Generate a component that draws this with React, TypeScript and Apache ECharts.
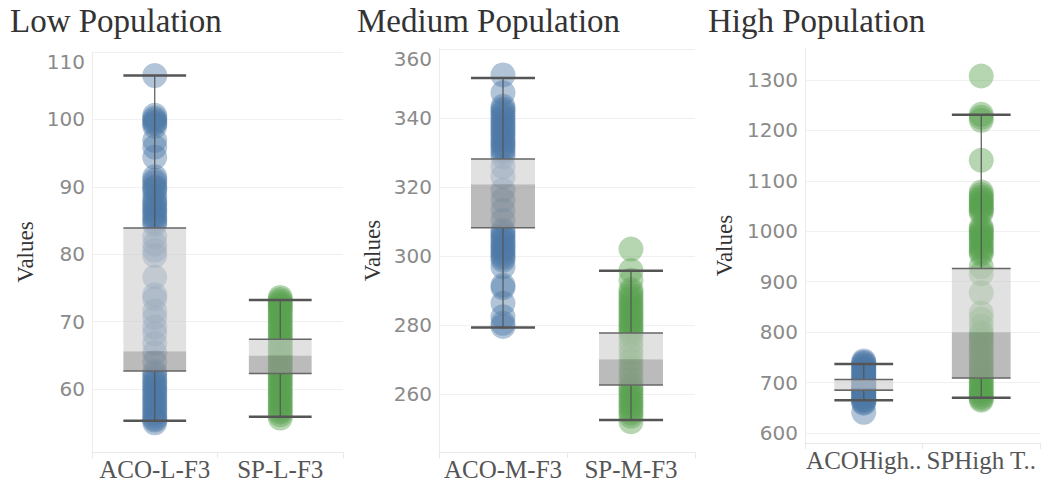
import React, { useEffect, useRef } from 'react';
import * as echarts from 'echarts';

// ---- categories ----
const lowCats = ['ACO-L-F3', 'SP-L-F3'];
const medCats = ['ACO-M-F3', 'SP-M-F3'];
const highCats = ['ACOHigh..', 'SPHigh T..'];

// ---- tick labels ----
const lowTicks = [60, 70, 80, 90, 100, 110];
const medTicks = [260, 280, 300, 320, 340, 360];
const highTicks = [600, 700, 800, 900, 1000, 1100, 1200, 1300];

// ---- observations ----
const lowAco = [106.5, 100.6, 100.2, 99.9, 99.6, 99.4, 99.0, 96.9, 95.9, 94.4, 91.5, 91.0, 90.6, 90.0, 89.8, 89.4, 88.6, 88.0, 87.6, 87.2, 86.8, 86.4, 86.0, 85.6, 85.2, 84.8, 84.4, 82.6, 81.5, 80.6, 79.8, 76.6, 74.0, 73.4, 71.6, 70.6, 69.2, 68.2, 66.8, 65.4, 64.0, 62.6, 62.2, 61.6, 61.2, 60.8, 60.4, 60.0, 59.6, 59.2, 58.8, 58.4, 58.0, 57.6, 57.2, 56.8, 56.4, 56.0, 55.6, 55.4, 55.0];
const lowSp = [73.6, 73.3, 73.0, 72.7, 72.4, 72.1, 71.8, 71.4, 71.0, 70.6, 70.2, 69.8, 69.4, 69.0, 68.6, 68.2, 67.8, 67.4, 67.0, 66.6, 66.2, 65.8, 65.4, 65.0, 64.6, 64.2, 63.8, 63.4, 63.0, 62.6, 62.2, 61.8, 61.4, 61.0, 60.6, 60.2, 59.8, 59.4, 59.0, 58.6, 58.2, 57.8, 57.4, 57.0, 56.6, 56.2, 55.7];
const medAco = [352.5, 347.3, 343.4, 342.6, 342.0, 341.2, 340.4, 339.7, 339.0, 338.2, 337.5, 336.8, 336.0, 335.3, 334.6, 333.8, 333.0, 332.4, 331.7, 330.8, 330.0, 328.8, 325.9, 323.0, 319.1, 316.2, 313.3, 310.4, 307.5, 306.8, 306.0, 305.3, 304.6, 303.8, 303.0, 302.4, 301.7, 301.0, 300.2, 299.5, 298.8, 296.9, 291.5, 290.8, 286.3, 282.4, 280.5, 279.6];
const medSp = [302.0, 295.8, 293.0, 290.2, 289.3, 288.4, 287.5, 286.6, 285.8, 285.0, 284.2, 283.4, 282.6, 281.8, 281.0, 280.2, 279.4, 278.6, 277.8, 277.0, 275.2, 273.4, 271.6, 269.8, 268.0, 266.2, 264.4, 262.6, 261.7, 260.8, 259.9, 259.0, 258.1, 257.2, 256.3, 255.4, 254.5, 253.6, 252.0];
const highAco = [743, 740, 738, 735, 732, 729, 726, 723, 720, 717, 714, 711, 708, 705, 702, 699, 697, 694, 692, 690, 688, 686, 684, 681, 679, 676, 674, 671, 669, 666, 664, 661, 659, 641];
const highSp = [1308, 1232, 1226, 1220, 1141, 1078, 1073, 1068, 1064, 1060, 1056, 1052, 1048, 1045, 1041, 1037, 1008, 1004, 1000, 996, 992, 988, 984, 979, 974, 969, 964, 960, 955, 930, 916, 878, 838, 826, 812, 800, 795, 790, 783, 776, 769, 762, 755, 748, 741, 735, 728, 722, 716, 710, 705, 700, 695, 690, 685, 681, 676, 672, 668, 665];

// ---- box stats: [min whisker, q1, median, q3, max whisker] ----
const lowAcoBox = [55.3, 62.7, 65.6, 83.9, 106.5];
const lowSpBox = [55.9, 62.3, 65.0, 67.4, 73.2];
const medAcoBox = [279.3, 308.2, 320.8, 328.1, 351.6];
const medSpBox = [252.5, 262.6, 270.1, 277.7, 295.7];
const highAcoBox = [665, 685, 688, 706, 737];
const highSpBox = [670, 709, 800, 926, 1231];

const BLUE = 'rgba(78,121,167,0.55)';
const GREEN = 'rgba(89,161,79,0.55)';
const SERIF = '"Liberation Serif", "Times New Roman", serif';
const SANS = '"DejaVu Sans", sans-serif';

function boxRender(params: any, api: any) {
  const cat = api.value(0);
  const mn = api.value(1), q1 = api.value(2), md = api.value(3), q3 = api.value(4), mx = api.value(5);
  const base = api.coord([cat, md]);
  const x = base[0];
  const y = (v: number) => api.coord([cat, v])[1];
  const bw = api.size([1, 0])[0];
  const half = bw * 0.25;
  const lineC = '#555555';
  return {
    type: 'group',
    children: [
      { type: 'rect', shape: { x: x - half, y: y(md), width: 2 * half, height: y(q1) - y(md) }, style: { fill: 'rgba(150,150,150,0.65)' } },
      { type: 'rect', shape: { x: x - half, y: y(q3), width: 2 * half, height: y(md) - y(q3) }, style: { fill: 'rgba(205,205,205,0.6)' } },
      { type: 'line', shape: { x1: x, y1: y(mx), x2: x, y2: y(q3) }, style: { stroke: lineC, lineWidth: 1.2 } },
      { type: 'line', shape: { x1: x, y1: y(q1), x2: x, y2: y(mn) }, style: { stroke: lineC, lineWidth: 1.2 } },
      { type: 'line', shape: { x1: x - half, y1: y(q3), x2: x + half, y2: y(q3) }, style: { stroke: '#666', lineWidth: 1.5 } },
      { type: 'line', shape: { x1: x - half, y1: y(q1), x2: x + half, y2: y(q1) }, style: { stroke: '#666', lineWidth: 1.5 } },
      { type: 'line', shape: { x1: x - half, y1: y(mx), x2: x + half, y2: y(mx) }, style: { stroke: lineC, lineWidth: 2.5 } },
      { type: 'line', shape: { x1: x - half, y1: y(mn), x2: x + half, y2: y(mn) }, style: { stroke: lineC, lineWidth: 2.5 } },
    ],
  };
}

function makeYAxis(gi: number, min: number, max: number, ticks: number[], nameGap: number, shiftTop: boolean) {
  const top = ticks[ticks.length - 1];
  return {
    type: 'value',
    gridIndex: gi,
    min,
    max,
    name: 'Values',
    nameLocation: 'middle',
    nameGap,
    nameTextStyle: { fontFamily: SERIF, fontSize: 23, color: '#333' },
    axisLine: { show: true, lineStyle: { color: '#ececec' } },
    axisTick: { show: false, customValues: ticks },
    splitLine: { show: true, lineStyle: { color: '#f0f0f0', width: 1 } },
    axisLabel: {
      customValues: ticks,
      margin: 7,
      fontFamily: SANS,
      fontSize: 20,
      color: '#8a8a8a',
      formatter: (v: number) => (shiftTop && v === top ? `{t|${v}}` : `${v}`),
      rich: { t: { fontFamily: SANS, fontSize: 20, color: '#8a8a8a', padding: [20, 0, 0, 0] } },
    },
  };
}

function makeXAxis(gi: number, cats: string[]) {
  return {
    type: 'category',
    gridIndex: gi,
    data: cats,
    boundaryGap: true,
    axisLine: { show: true, lineStyle: { color: '#e8e8e8' } },
    axisTick: { show: true, length: 6, lineStyle: { color: '#e8e8e8' } },
    axisLabel: { fontFamily: SERIF, fontSize: 25, color: '#555', margin: 5, interval: 0 },
    splitLine: { show: false },
  };
}

function scatter(gi: number, cat: number, vals: number[], color: string) {
  return {
    type: 'scatter',
    xAxisIndex: gi,
    yAxisIndex: gi,
    symbolSize: 25,
    itemStyle: { color },
    silent: true,
    z: 2,
    data: vals.map((v) => [cat, v]),
  };
}

function box(gi: number, a: number[], b: number[]) {
  return {
    type: 'custom',
    xAxisIndex: gi,
    yAxisIndex: gi,
    renderItem: boxRender,
    silent: true,
    z: 3,
    data: [[0, ...a], [1, ...b]],
  };
}

export default function App() {
  const ref = useRef<HTMLDivElement>(null);
  useEffect(() => {
    if (!ref.current) return;
    const chart = echarts.init(ref.current, undefined, { renderer: 'svg' });
    const titleStyle = { fontFamily: SERIF, fontSize: 33, fontWeight: 'normal', color: '#333' };
    chart.setOption({
      animation: false,
      backgroundColor: '#ffffff',
      title: [
        { text: 'Low Population', left: 10, top: 4, padding: 0, textStyle: titleStyle },
        { text: 'Medium Population', left: 357, top: 4, padding: 0, textStyle: titleStyle },
        { text: 'High Population', left: 708, top: 4, padding: 0, textStyle: titleStyle },
      ],
      grid: [
        { left: 92, top: 52, width: 251, height: 400 },
        { left: 439, top: 49, width: 256, height: 403 },
        { left: 805, top: 48, width: 235, height: 395 },
      ],
      xAxis: [makeXAxis(0, lowCats), makeXAxis(1, medCats), makeXAxis(2, highCats)],
      yAxis: [
        makeYAxis(0, 50.67, 110, lowTicks, 55, true),
        makeYAxis(1, 243.2, 360, medTicks, 55, true),
        makeYAxis(2, 580.2, 1363.5, highTicks, 69, false),
      ],
      series: [
        scatter(0, 0, lowAco, BLUE),
        scatter(0, 1, lowSp, GREEN),
        box(0, lowAcoBox, lowSpBox),
        scatter(1, 0, medAco, BLUE),
        scatter(1, 1, medSp, GREEN),
        box(1, medAcoBox, medSpBox),
        scatter(2, 0, highAco, BLUE),
        scatter(2, 1, highSp, GREEN),
        box(2, highAcoBox, highSpBox),
      ],
    });
    return () => chart.dispose();
  }, []);
  return <div ref={ref} style={{ position: 'fixed', left: 0, top: 0, width: 1041, height: 484 }} />;
}
